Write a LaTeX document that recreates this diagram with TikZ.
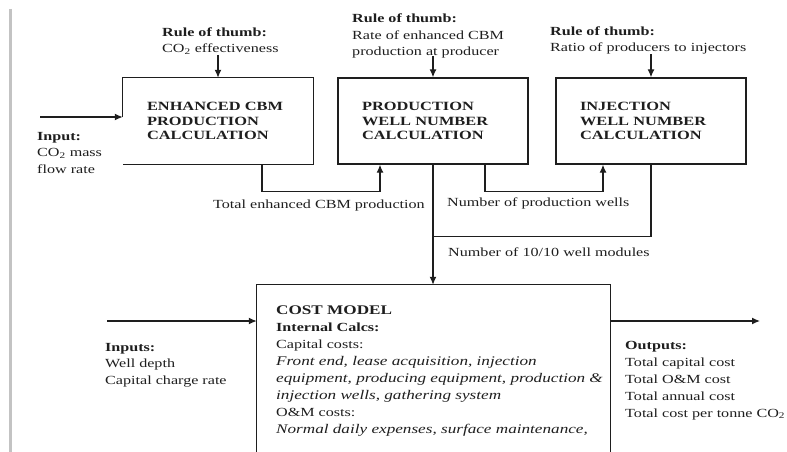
\documentclass[tikz,border=0pt]{standalone}
\usepackage{fontspec}
\setmainfont{Liberation Serif}[FakeStretch=1.3]
\usetikzlibrary{arrows.meta,calc}
\definecolor{ink}{RGB}{30,30,30}
\definecolor{edge}{RGB}{195,195,195}
\begin{document}
\begin{tikzpicture}[x=1pt,y=-1pt,
 line/.style={draw=ink,line width=1.3pt},
 arr/.style={line,-{Latex[length=8pt,width=7pt]}},
 txt/.style={anchor=base west,inner sep=0pt,align=left,text=ink,font=\fontsize{12.4}{16.5}\selectfont},
 calcbox/.style={minimum width=190pt,minimum height=86pt,inner xsep=24pt,inner ysep=0pt,text width=142pt,align=left,text=ink,font=\bfseries\fontsize{12.6}{14.5}\selectfont},
]
\useasboundingbox (0,0) rectangle (787,452);
\draw[draw=edge,line width=3pt] (10,9) -- (10,452);

% calculation boxes
\node[calcbox] (b1) at (218,121) {ENHANCED CBM\\PRODUCTION\\CALCULATION};
\node[calcbox,draw=ink,line width=1.3pt] (b2) at (433,121) {PRODUCTION\\WELL NUMBER\\CALCULATION};
\node[calcbox,draw=ink,line width=1.3pt] (b3) at (651,121) {INJECTION\\WELL NUMBER\\CALCULATION};
\coordinate (in1) at (40,117);
\draw[line] (in1 -| b1.west) -- (b1.north west) -- (b1.north east) -- (b1.south east) -- (b1.south west);

% cost model
\node[minimum width=353pt,minimum height=167pt,inner sep=0pt] (cm) at (433.5,368.5) {};
\draw[line] (cm.south west) -- (cm.north west) -- (cm.north east) -- (cm.south east);
\node[txt,font=\fontsize{12.4}{17}\selectfont] (ct) at (276,433) {{\fontsize{13.2}{17}\selectfont\textbf{COST MODEL}}\\\textbf{Internal Calcs:}\\Capital costs:\\{\fontsize{13.2}{17}\selectfont\itshape Front end, lease acquisition, injection}\\{\fontsize{13.2}{17}\selectfont\itshape equipment, producing equipment, production \&}\\{\fontsize{13.2}{17}\selectfont\itshape injection wells, gathering system}\\O\&M costs:\\{\fontsize{13.2}{17}\selectfont\itshape Normal daily expenses, surface maintenance,}};

% rules of thumb
\node[txt] (r1) at (162,53) {\textbf{Rule of thumb:}\\CO\textsubscript{2} effectiveness};
\node[txt] (r2) at (352,56) {\textbf{Rule of thumb:}\\Rate of enhanced CBM\\production at producer};
\node[txt] (r3) at (550,52) {\textbf{Rule of thumb:}\\Ratio of producers to injectors};

% inputs / outputs
\node[txt] (ip1) at (37,173) {\textbf{Input:}\\CO\textsubscript{2} mass\\flow rate};
\node[txt] (ip2) at (105,384) {\textbf{Inputs:}\\Well depth\\Capital charge rate};
\node[txt,font=\fontsize{12.4}{16.8}\selectfont] (op) at (625,417) {\textbf{Outputs:}\\Total capital cost\\Total O\&M cost\\Total annual cost\\Total cost per tonne CO\textsubscript{2}};

% connector labels
\node[txt] (l1) at (213,208) {Total enhanced CBM production};
\node[txt] (l2) at (447,206) {Number of production wells};
\node[txt] (l3) at (448,256) {Number of 10/10 well modules};

% connectors
\draw[arr] (in1) -- (in1 -| b1.west);
\draw[arr] ([yshift=23pt]b1.north) -- (b1.north);
\draw[arr] ([yshift=21pt]b2.north) -- (b2.north);
\draw[arr] ([yshift=23pt]b3.north) -- (b3.north);
\draw[arr] ($(b1.south)+(44,0)$) |- ($(b2.south)+(-53,27)$) -- ($(b2.south)+(-53,0)$);
\draw[arr] ($(b2.south)+(52,0)$) |- ($(b3.south)+(-48,27)$) -- ($(b3.south)+(-48,0)$);
\draw[arr] (b2.south) -- (b2.south |- cm.north);
\draw[line] (b3.south) |- ($(b2.south)+(0,72)$);
\coordinate (in2) at (107,321);
\draw[arr] (in2) -- (in2 -| cm.west);
\coordinate (out) at (760,321);
\draw[arr] (out -| cm.east) -- (out);
\end{tikzpicture}
\end{document}
